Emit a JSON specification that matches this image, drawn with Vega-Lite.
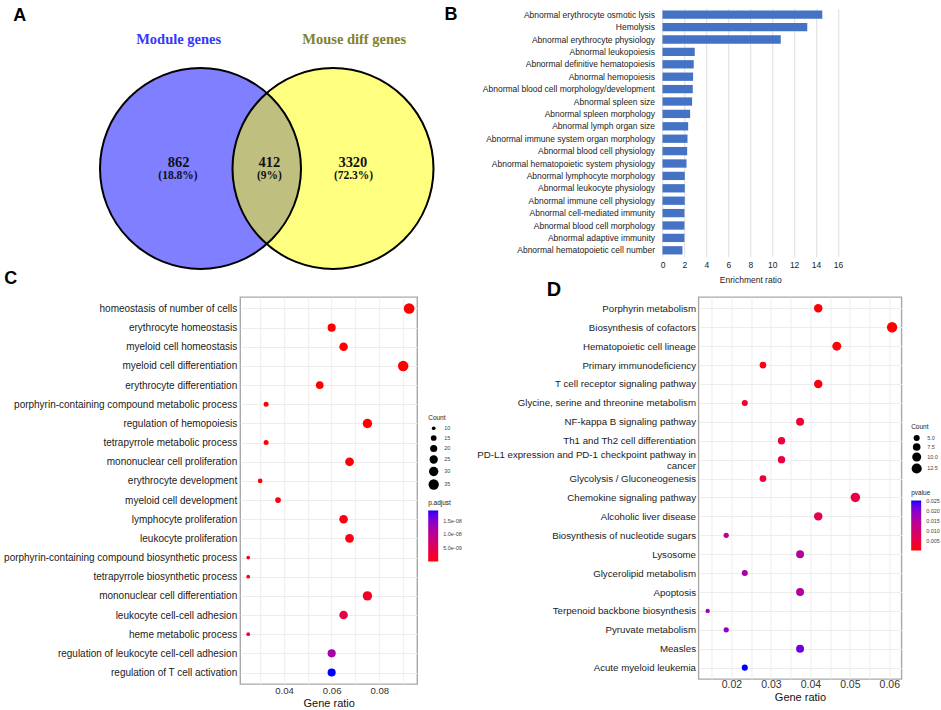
{
  "$schema": "https://vega.github.io/schema/vega-lite/v6.json",
  "background": "white",
  "padding": {"left": 2.2, "top": 5.5, "right": 0, "bottom": 0},
  "bounds": "flush",
  "spacing": 40.5,
  "resolve": {"scale": {"color": "independent", "size": "independent"}, "legend": {"color": "independent", "size": "independent"}},
  "config": {
    "view": {"stroke": null},
    "font": "Liberation Sans",
    "axis": {"labelFont": "Liberation Sans", "titleFont": "Liberation Sans"},
    "legend": {"labelFont": "Liberation Sans", "titleFont": "Liberation Sans", "padding": 0}
  },
  "vconcat": [
    {
      "width": 597.8,
      "height": 248,
      "layer": [
        {
          "encoding": {
            "x": {"field": "px", "type": "quantitative", "scale": {"domain": [-1, 1], "range": [-39.7, 92.8]}, "axis": null},
            "y": {"field": "py", "type": "quantitative", "scale": {"domain": [-1, 1], "range": [261, 59]}, "axis": null}
          },
          "layer": [
            {
              "data": {"values": [{"set": "Module genes", "px": -1, "py": 0}, {"set": "Mouse diff genes", "px": 1, "py": 0}]},
              "mark": {"type": "point", "filled": true, "size": 40401, "opacity": 1, "fillOpacity": 0.5, "strokeWidth": 0},
              "encoding": {"color": {"field": "set", "type": "nominal", "scale": {"range": ["#0000FF", "#FFFF00"]}, "legend": null}}
            },
            {
              "data": {"values": [{"set": "Module genes", "px": -1, "py": 0}, {"set": "Mouse diff genes", "px": 1, "py": 0}]},
              "mark": {"type": "point", "filled": false, "size": 40401, "opacity": 1, "color": "black", "strokeWidth": 2},
              "encoding": {}
            },
            {
              "data": {"values": [{"label": "Module genes", "px": -1.33, "py": 1.272}, {"label": "Mouse diff genes", "px": 1.32, "py": 1.272}]},
              "mark": {"type": "text", "font": "Liberation Serif", "fontWeight": "bold", "fontSize": 14.5, "baseline": "middle", "align": "center"},
              "encoding": {
                "text": {"field": "label"},
                "color": {"condition": {"test": "datum.label == 'Module genes'", "value": "#3636FF"}, "value": "#82822C"}
              }
            },
            {
              "data": {"values": [{"label": "862", "px": -1.33, "py": 0.054}, {"label": "412", "px": 0.04, "py": 0.054}, {"label": "3320", "px": 1.3, "py": 0.054}]},
              "mark": {"type": "text", "font": "Liberation Serif", "fontWeight": "bold", "fontSize": 14.5, "baseline": "middle", "align": "center", "color": "#111111"},
              "encoding": {"text": {"field": "label"}}
            },
            {
              "data": {"values": [{"label": "(18.8%)", "px": -1.34, "py": -0.071}, {"label": "(9%)", "px": 0.04, "py": -0.071}, {"label": "(72.3%)", "px": 1.31, "py": -0.071}]},
              "mark": {"type": "text", "font": "Liberation Serif", "fontWeight": "bold", "fontSize": 11.5, "baseline": "middle", "align": "center", "color": "#111111"},
              "encoding": {"text": {"field": "label"}}
            },
            {
              "data": {"values": [{"label": "A", "px": -3.73, "py": 1.51}, {"label": "B", "px": 2.78, "py": 1.52}]},
              "mark": {"type": "text", "font": "Liberation Sans", "fontWeight": "bold", "fontSize": 18, "baseline": "middle", "align": "center", "color": "#000000"},
              "encoding": {"text": {"field": "label"}}
            }
          ]
        },
        {
          "data": {"values": [
            {"term": "Abnormal erythrocyte osmotic lysis", "ratio": 14.57},
            {"term": "Hemolysis", "ratio": 13.2},
            {"term": "Abnormal erythrocyte physiology", "ratio": 10.78},
            {"term": "Abnormal leukopoiesis", "ratio": 2.94},
            {"term": "Abnormal definitive hematopoiesis", "ratio": 2.85},
            {"term": "Abnormal hemopoiesis", "ratio": 2.79},
            {"term": "Abnormal blood cell morphology/development", "ratio": 2.76},
            {"term": "Abnormal spleen size", "ratio": 2.7},
            {"term": "Abnormal spleen morphology", "ratio": 2.52},
            {"term": "Abnormal lymph organ size", "ratio": 2.34},
            {"term": "Abnormal immune system organ morphology", "ratio": 2.28},
            {"term": "Abnormal blood cell physiology", "ratio": 2.25},
            {"term": "Abnormal hematopoietic system physiology", "ratio": 2.19},
            {"term": "Abnormal lymphocyte morphology", "ratio": 2.03},
            {"term": "Abnormal leukocyte physiology", "ratio": 2.03},
            {"term": "Abnormal immune cell physiology", "ratio": 2.03},
            {"term": "Abnormal cell-mediated immunity", "ratio": 2.0},
            {"term": "Abnormal blood cell morphology", "ratio": 2.0},
            {"term": "Abnormal adaptive immunity", "ratio": 2.0},
            {"term": "Abnormal hematopoietic cell number", "ratio": 1.82}
          ]},
          "mark": {"type": "bar", "color": "#4472C4"},
          "encoding": {
            "y": {"field": "term", "type": "nominal", "sort": null,
              "scale": {"paddingInner": 0.33, "paddingOuter": 0.165},
              "axis": {"orient": "left", "offset": -422.3, "title": null, "ticks": false, "tickSize": 0, "domain": false, "grid": false, "labelFontSize": 8.5, "labelColor": "#222222", "labelPadding": 8, "labelLimit": 300}},
            "x": {"field": "ratio", "type": "quantitative",
              "scale": {"domain": [0, 16], "range": [422.3, 597.8], "nice": false},
              "axis": {"orient": "bottom", "title": "Enrichment ratio", "values": [0, 2, 4, 6, 8, 10, 12, 14, 16], "grid": true, "gridColor": "#E3E3E3", "gridWidth": 1.2, "domain": false, "ticks": false, "tickSize": 0, "labelFontSize": 8.5, "labelColor": "#222222", "labelPadding": 3.5, "labelFlush": false, "titleFontSize": 8.5, "titleFontWeight": "normal", "titleColor": "#222222", "titlePadding": 7}}
          }
        }
      ],
      "resolve": {"scale": {"x": "independent", "y": "independent", "color": "independent"}, "axis": {"x": "independent", "y": "independent"}}
    },
    {
      "bounds": "flush",
      "spacing": 281.3,
      "resolve": {"scale": {"color": "independent", "size": "independent"}, "legend": {"color": "independent", "size": "independent"}},
      "hconcat": [
        {
          "width": 177,
          "height": 387,
          "view": {"stroke": "#A8A8A8", "strokeWidth": 1.4},
          "title": {"text": "C", "anchor": "start", "frame": "bounds", "fontSize": 18, "fontWeight": "bold", "font": "Liberation Sans", "color": "#000000", "offset": 9, "dx": 1},
          "data": {"values": [
            {"term": "homeostasis of number of cells", "ratio": 0.0925, "count": 37, "padj": 1e-13},
            {"term": "erythrocyte homeostasis", "ratio": 0.06, "count": 24, "padj": 2e-13},
            {"term": "myeloid cell homeostasis", "ratio": 0.065, "count": 26, "padj": 3e-13},
            {"term": "myeloid cell differentiation", "ratio": 0.09, "count": 36, "padj": 3e-13},
            {"term": "erythrocyte differentiation", "ratio": 0.055, "count": 22, "padj": 5e-13},
            {"term": "porphyrin-containing compound metabolic process", "ratio": 0.0325, "count": 13, "padj": 1e-12},
            {"term": "regulation of hemopoiesis", "ratio": 0.075, "count": 30, "padj": 2e-11},
            {"term": "tetrapyrrole metabolic process", "ratio": 0.0325, "count": 13, "padj": 3e-11},
            {"term": "mononuclear cell proliferation", "ratio": 0.0675, "count": 27, "padj": 1e-10},
            {"term": "erythrocyte development", "ratio": 0.03, "count": 12, "padj": 1e-10},
            {"term": "myeloid cell development", "ratio": 0.0375, "count": 15, "padj": 2e-10},
            {"term": "lymphocyte proliferation", "ratio": 0.065, "count": 26, "padj": 5e-10},
            {"term": "leukocyte proliferation", "ratio": 0.0675, "count": 27, "padj": 6e-10},
            {"term": "porphyrin-containing compound biosynthetic process", "ratio": 0.025, "count": 10, "padj": 8e-10},
            {"term": "tetrapyrrole biosynthetic process", "ratio": 0.025, "count": 10, "padj": 8e-10},
            {"term": "mononuclear cell differentiation", "ratio": 0.075, "count": 30, "padj": 1.6e-9},
            {"term": "leukocyte cell-cell adhesion", "ratio": 0.065, "count": 26, "padj": 4e-9},
            {"term": "heme metabolic process", "ratio": 0.025, "count": 10, "padj": 4.5e-9},
            {"term": "regulation of leukocyte cell-cell adhesion", "ratio": 0.06, "count": 24, "padj": 1.2e-8},
            {"term": "regulation of T cell activation", "ratio": 0.06, "count": 24, "padj": 1.885e-8}
          ]},
          "mark": {"type": "circle", "opacity": 1},
          "encoding": {
            "y": {"field": "term", "type": "nominal", "sort": null,
              "scale": {"type": "point", "padding": 0.6},
              "axis": {"title": null, "grid": true, "gridColor": "#EBEBEB", "gridWidth": 0.9, "domain": false, "ticks": false, "tickSize": 0, "labelFontSize": 10, "labelColor": "#1A1A1A", "labelPadding": 3.5, "labelLimit": 400}},
            "x": {"field": "ratio", "type": "quantitative",
              "scale": {"domain": [0.02163, 0.09588], "nice": false, "zero": false},
              "axis": {"title": "Gene ratio", "values": [0.03, 0.04, 0.05, 0.06, 0.07, 0.08, 0.09],
                "labelExpr": "abs(datum.value * 50 - round(datum.value * 50)) < 0.01 ? format(datum.value, '.2f') : ''",
                "grid": true, "gridColor": "#EBEBEB", "gridWidth": 0.9, "domain": false, "ticks": false, "tickSize": 0, "labelOverlap": false, "labelFlush": false,
                "labelFontSize": 9.6, "labelColor": "#333333", "labelPadding": 2, "titleFontSize": 11, "titleFontWeight": "normal", "titleColor": "#111111", "titlePadding": 2}},
            "size": {"field": "count", "type": "quantitative",
              "scale": {"domain": [10, 37], "range": [14, 114], "zero": false},
              "legend": {"title": "Count", "orient": "none", "legendX": 188, "legendY": 118, "direction": "vertical", "values": [10, 15, 20, 25, 30, 35],
                "symbolFillColor": "black", "symbolStrokeWidth": 0, "symbolOpacity": 1, "labelFontSize": 5.5, "labelColor": "#444444", "labelOffset": 5, "rowPadding": 2.5,
                "titleFontSize": 6.5, "titleFontWeight": "normal", "titleColor": "#222222", "titlePadding": 4,
                "encode": {"symbols": {"update": {"fill": {"value": "black"}, "stroke": {"value": "transparent"}, "opacity": {"value": 1}}}}}},
            "color": {"field": "padj", "type": "quantitative",
              "scale": {"domain": [0, 1.885e-8], "range": ["#FF0000", "#0000FF"], "interpolate": "lab"},
              "legend": {"title": "p.adjust", "orient": "none", "legendX": 188, "legendY": 203, "direction": "vertical", "values": [5e-9, 1e-8, 1.5e-8],
                "labelExpr": "datum.value < 7e-9 ? '5.0e-09' : datum.value < 1.2e-8 ? '1.0e-08' : '1.5e-08'",
                "gradientLength": 51, "gradientThickness": 10, "gradientStrokeWidth": 0, "labelFontSize": 5.5, "labelColor": "#444444", "labelOffset": 5,
                "titleFontSize": 6.5, "titleFontWeight": "normal", "titleColor": "#222222", "titlePadding": 4}}
          }
        },
        {
          "width": 203,
          "height": 382,
          "view": {"stroke": "#A8A8A8", "strokeWidth": 1.4},
          "title": {"text": "D", "anchor": "start", "frame": "bounds", "fontSize": 20, "fontWeight": "bold", "font": "Liberation Sans", "color": "#000000", "offset": -3, "dx": 70},
          "data": {"values": [
            {"term": "Porphyrin metabolism", "ratio": 0.042, "count": 9, "pvalue": 0.0006},
            {"term": "Biosynthesis of cofactors", "ratio": 0.0607, "count": 13, "pvalue": 0.0005},
            {"term": "Hematopoietic cell lineage", "ratio": 0.0467, "count": 10, "pvalue": 0.0008},
            {"term": "Primary immunodeficiency", "ratio": 0.028, "count": 6, "pvalue": 0.0015},
            {"term": "T cell receptor signaling pathway", "ratio": 0.042, "count": 9, "pvalue": 0.0012},
            {"term": "Glycine, serine and threonine metabolism", "ratio": 0.0234, "count": 5, "pvalue": 0.0035},
            {"term": "NF-kappa B signaling pathway", "ratio": 0.0374, "count": 8, "pvalue": 0.004},
            {"term": "Th1 and Th2 cell differentiation", "ratio": 0.0327, "count": 7, "pvalue": 0.005},
            {"term": "PD-L1 expression and PD-1 checkpoint pathway in\ncancer", "ratio": 0.0327, "count": 7, "pvalue": 0.005},
            {"term": "Glycolysis / Gluconeogenesis", "ratio": 0.028, "count": 6, "pvalue": 0.0045},
            {"term": "Chemokine signaling pathway", "ratio": 0.0514, "count": 11, "pvalue": 0.0055},
            {"term": "Alcoholic liver disease", "ratio": 0.042, "count": 9, "pvalue": 0.006},
            {"term": "Biosynthesis of nucleotide sugars", "ratio": 0.0187, "count": 4, "pvalue": 0.0135},
            {"term": "Lysosome", "ratio": 0.0374, "count": 8, "pvalue": 0.0145},
            {"term": "Glycerolipid metabolism", "ratio": 0.0234, "count": 5, "pvalue": 0.016},
            {"term": "Apoptosis", "ratio": 0.0374, "count": 8, "pvalue": 0.0155},
            {"term": "Terpenoid backbone biosynthesis", "ratio": 0.014, "count": 3, "pvalue": 0.018},
            {"term": "Pyruvate metabolism", "ratio": 0.0187, "count": 4, "pvalue": 0.019},
            {"term": "Measles", "ratio": 0.0374, "count": 8, "pvalue": 0.022},
            {"term": "Acute myeloid leukemia", "ratio": 0.0234, "count": 5, "pvalue": 0.0254}
          ]},
          "mark": {"type": "circle", "opacity": 1},
          "encoding": {
            "y": {"field": "term", "type": "nominal", "sort": null,
              "scale": {"type": "point", "padding": 0.6},
              "axis": {"title": null, "grid": true, "gridColor": "#EBEBEB", "gridWidth": 0.9, "domain": false, "ticks": false, "tickSize": 0, "labelFontSize": 9.7, "labelColor": "#1A1A1A", "labelPadding": 3, "labelLimit": 400,
                "labelExpr": "split(datum.label, '\\n')", "labelLineHeight": 10.7,
                "labelOffset": {"condition": {"test": "indexof(datum.label, 'PD-L1') == 0", "value": -5.3}, "value": 0}}},
            "x": {"field": "ratio", "type": "quantitative",
              "scale": {"domain": [0.01168, 0.06308], "nice": false, "zero": false},
              "axis": {"title": "Gene ratio", "values": [0.015, 0.02, 0.025, 0.03, 0.035, 0.04, 0.045, 0.05, 0.055, 0.06],
                "labelExpr": "abs(datum.value * 100 - round(datum.value * 100)) < 0.01 ? format(datum.value, '.2f') : ''",
                "grid": true, "gridColor": "#EBEBEB", "gridWidth": 0.9, "domain": false, "ticks": false, "tickSize": 0, "labelOverlap": false, "labelFlush": false,
                "labelFontSize": 10.5, "labelColor": "#333333", "labelPadding": 1, "titleFontSize": 11, "titleFontWeight": "normal", "titleColor": "#111111", "titlePadding": 1}},
            "size": {"field": "count", "type": "quantitative",
              "scale": {"domain": [3, 13], "range": [19, 107], "zero": false},
              "legend": {"title": "Count", "orient": "none", "legendX": 212.7, "legendY": 127, "direction": "vertical", "values": [5, 7.5, 10, 12.5], "format": ".1f",
                "symbolFillColor": "black", "symbolStrokeWidth": 0, "symbolOpacity": 1, "labelFontSize": 5.5, "labelColor": "#444444", "labelOffset": 5, "rowPadding": 1.5,
                "titleFontSize": 6.5, "titleFontWeight": "normal", "titleColor": "#222222", "titlePadding": 4,
                "encode": {"symbols": {"update": {"fill": {"value": "black"}, "stroke": {"value": "transparent"}, "opacity": {"value": 1}}}}}},
            "color": {"field": "pvalue", "type": "quantitative",
              "scale": {"domain": [0.0005, 0.0254], "range": ["#FF0000", "#0000FF"], "interpolate": "lab"},
              "legend": {"title": "pvalue", "orient": "none", "legendX": 212.7, "legendY": 193, "direction": "vertical", "values": [0.005, 0.01, 0.015, 0.02, 0.025], "format": ".3f",
                "gradientLength": 50, "gradientThickness": 10, "gradientStrokeWidth": 0, "labelFontSize": 5.5, "labelColor": "#444444", "labelOffset": 5,
                "titleFontSize": 6.5, "titleFontWeight": "normal", "titleColor": "#222222", "titlePadding": 4}}
          }
        }
      ]
    }
  ]
}
